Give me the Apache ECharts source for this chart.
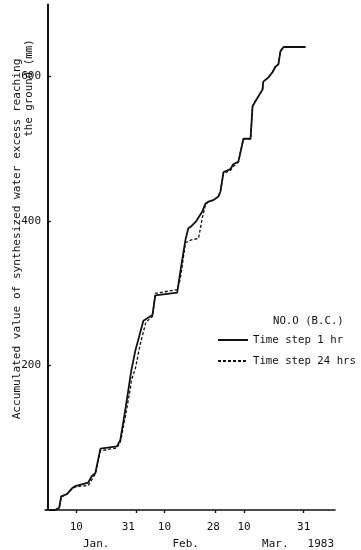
<!DOCTYPE html>
<html>
<head>
<meta charset="utf-8">
<script src="https://cdn.jsdelivr.net/npm/echarts@6/dist/echarts.min.js"></script>
<style>
  html, body { margin: 0; padding: 0; background: #fff; }
  #chart { width: 361px; height: 550px; }
</style>
</head>
<body>
<div id="chart"></div>
<script>
// Days are counted from the start of 1983 (Jan 1 = day 1, Feb 10 = day 41, ...).
const FONT = 'DejaVu Sans Mono';

// Accumulated water excess, time step 1 hr (mm)
const hourlyDays = [-0.5, 2.6, 4.0, 4.7, 5.4, 6.7, 8.5, 9.6, 14.2, 15.5, 16.7, 18.5, 24.3, 25.5, 27.3, 29.0, 29.4, 30.8, 33.6, 36.8, 37.8, 45.5, 46.6, 48.4, 49.4, 50.5, 52.2, 54.3, 55.4, 56.5, 58.2, 60.0, 60.7, 61.8, 64.2, 65.3, 67.0, 68.8, 71.3, 72.0, 73.0, 75.5, 75.8, 77.6, 79.0, 80.1, 81.1, 81.8, 82.9, 90.6];
const hourlyValues = [0, 0, 3, 19, 20, 22, 30, 33, 38, 47, 51, 85, 88, 97, 140, 184, 194, 221, 262, 270, 297, 301, 330, 374, 390, 393, 400, 413, 424, 427, 429, 434, 441, 468, 472, 479, 482, 514, 514, 559, 566, 582, 593, 599, 606, 614, 617, 635, 641, 641];

// Accumulated water excess, time step 24 hrs (mm)
const dailyDays = [-0.5, 2.6, 4.0, 4.7, 5.4, 6.7, 8.5, 9.6, 14.2, 15.5, 16.7, 18.5, 24.3, 25.5, 27.3, 29.0, 29.4, 30.8, 32.5, 34.5, 36.8, 37.8, 45.5, 46.6, 48.4, 50.5, 53.0, 54.3, 55.4, 56.5, 58.2, 60.0, 60.7, 61.8, 64.2, 65.3, 67.0, 68.8, 71.3, 72.0, 73.0, 75.5, 75.8, 77.6, 79.0, 80.1, 81.1, 81.8, 82.9, 90.6];
const dailyValues = [0, 0, 3, 18, 20, 22, 29, 32, 34, 42, 50, 82, 86, 94, 130, 168, 180, 196, 230, 260, 268, 300, 305, 320, 370, 374, 376, 404, 422, 427, 429, 434, 441, 466, 470, 476, 482, 514, 514, 559, 566, 582, 593, 599, 606, 614, 617, 635, 641, 641];

// Axis ticks and their labels
const tickDays = [10, 31, 41, 59, 69, 90];
const tickLabelDays = [10, 28.3, 41, 58.2, 69, 90];
const tickLabels = ['10', '31', '10', '28', '10', '31'];
const monthDays = [17, 48.5, 80, 96];
const monthLabels = ['Jan.', 'Feb.', 'Mar.', '1983'];
const yTicks = [200, 400, 600];

const pairs = (xs, ys) => xs.map((x, i) => [x, ys[i]]);
const labelFor = (vals, texts) => v => {
  const i = vals.findIndex(d => Math.abs(d - v) < 1e-6);
  return i >= 0 ? texts[i] : '';
};

const X_MIN = -1, X_MAX = 101;
const ink = '#111';

const chart = echarts.init(document.getElementById('chart'), null, { renderer: 'canvas' });
chart.setOption({
  animation: false,
  backgroundColor: '#fff',
  grid: { left: 45, right: 26, top: 4.4, bottom: 36 },
  xAxis: [
    {
      type: 'value', min: X_MIN, max: X_MAX,
      axisLine: { show: true, onZero: false, lineStyle: { color: ink, width: 1.6 } },
      axisTick: { show: true, customValues: tickDays, length: 3, inside: false, lineStyle: { color: ink, width: 1.4 } },
      axisLabel: {
        customValues: tickLabelDays, margin: 12,
        fontFamily: FONT, fontSize: 11, color: ink,
        formatter: labelFor(tickLabelDays, tickLabels)
      },
      splitLine: { show: false }
    },
    {
      type: 'value', min: X_MIN, max: X_MAX, position: 'bottom',
      axisLine: { show: false },
      axisTick: { show: false },
      axisLabel: {
        customValues: monthDays, margin: 29,
        fontFamily: FONT, fontSize: 11, color: ink,
        formatter: labelFor(monthDays, monthLabels)
      },
      splitLine: { show: false }
    }
  ],
  yAxis: {
    type: 'value', min: 0, max: 700,
    axisLine: { show: true, lineStyle: { color: ink, width: 2 } },
    axisTick: { show: true, customValues: yTicks, inside: true, length: 3, lineStyle: { color: ink, width: 1.4 } },
    axisLabel: {
      customValues: yTicks, margin: 4,
      fontFamily: FONT, fontSize: 11, color: ink
    },
    splitLine: { show: false }
  },
  legend: {
    orient: 'vertical', left: 217, top: 334, padding: 0,
    itemWidth: 30, itemHeight: 12, itemGap: 9,
    itemStyle: { opacity: 0 },
    textStyle: { fontFamily: FONT, fontSize: 10.7, color: ink, lineHeight: 12 },
    data: ['Time step 1 hr', 'Time step 24 hrs']
  },
  graphic: [
    {
      type: 'text', x: 17, y: 239, rotation: Math.PI / 2,
      style: {
        text: 'Accumulated value of synthesized water excess reaching',
        fontFamily: FONT, fontSize: 11.1, fill: ink,
        textAlign: 'center', textVerticalAlign: 'middle'
      }
    },
    {
      type: 'text', x: 29, y: 88, rotation: Math.PI / 2,
      style: {
        text: 'the ground (mm)',
        fontFamily: FONT, fontSize: 10.8, fill: ink,
        textAlign: 'center', textVerticalAlign: 'middle'
      }
    },
    {
      type: 'text', x: 273, y: 321,
      style: {
        text: 'NO.O (B.C.)',
        fontFamily: FONT, fontSize: 10.7, fill: ink,
        textAlign: 'left', textVerticalAlign: 'middle'
      }
    }
  ],
  series: [
    {
      name: 'Time step 24 hrs', type: 'line', xAxisIndex: 0,
      data: pairs(dailyDays, dailyValues),
      symbol: 'none', smooth: false, z: 2,
      itemStyle: { color: ink },
      lineStyle: { color: ink, width: 1.3, type: [3, 2] }
    },
    {
      name: 'Time step 1 hr', type: 'line', xAxisIndex: 0,
      data: pairs(hourlyDays, hourlyValues),
      symbol: 'none', smooth: false, z: 3,
      itemStyle: { color: ink },
      lineStyle: { color: ink, width: 1.8 }
    }
  ]
});
</script>
</body>
</html>
